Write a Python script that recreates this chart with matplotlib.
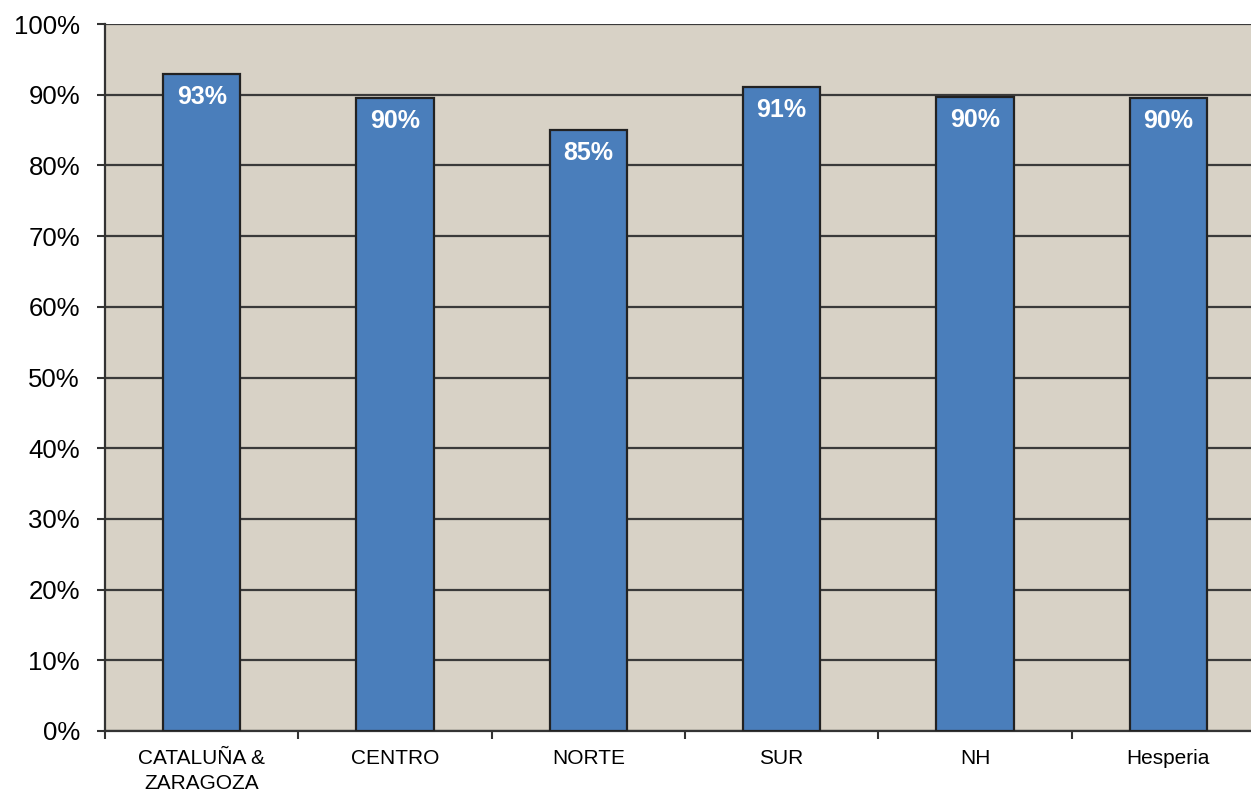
import numpy as np
from matplotlib import pyplot as plt

categories = ["CATALUÑA &\nZARAGOZA", "CENTRO", "NORTE", "SUR", "NH", "Hesperia"]
values = [92.9, 89.5, 85.0, 91.1, 89.7, 89.5]
labels = ["93%", "90%", "85%", "91%", "90%", "90%"]

plt.rcParams['font.family'] = ['Liberation Sans', 'DejaVu Sans']

fig = plt.figure(figsize=(12.51, 7.95), dpi=100)
# plot area runs a bit past the right edge of the picture (cropped in the original)
ax = fig.add_axes([105 / 1251, 1 - 731 / 795, (1265 - 105) / 1251, (731 - 24) / 795])
ax.set_facecolor('#D8D2C6')

x = np.arange(len(categories))
ax.set_axisbelow(True)
ax.yaxis.grid(True, color='#3A3A3A', linewidth=1.6)
bars = ax.bar(x, values, width=0.40, color='#4A7EBB', edgecolor='#222222', linewidth=1.6, zorder=3)

for b, lab in zip(bars, labels):
    ax.annotate(lab, (b.get_x() + b.get_width() / 2, b.get_height()),
                xytext=(0, -23), textcoords='offset pixels',
                ha='center', va='center', color='white', fontsize=18, fontweight='bold', zorder=4)

ax.set_xlim(-0.5, len(categories) - 0.5)
ax.set_ylim(0, 100)
ax.set_yticks(np.arange(0, 101, 10))
ax.set_yticklabels([f"{v}%" for v in range(0, 101, 10)], fontsize=18.5)

# ticks on category boundaries, labels at centres
ax.set_xticks(np.arange(-0.5, len(categories), 1))
ax.set_xticklabels([])
ax.set_xticks(x, minor=True)
ax.set_xticklabels(categories, minor=True, fontsize=15, linespacing=1.4)
ax.tick_params(axis='x', which='minor', length=0, pad=13)
ax.tick_params(axis='x', which='major', length=6, width=1.5, color='#333333')
ax.tick_params(axis='y', length=6, width=1.5, color='#333333', pad=12)

for s in ['top', 'right']:
    ax.spines[s].set_visible(False)
for s in ['left', 'bottom']:
    ax.spines[s].set_color('#333333')
    ax.spines[s].set_linewidth(1.6)

fig.savefig('out.png', dpi=100)
